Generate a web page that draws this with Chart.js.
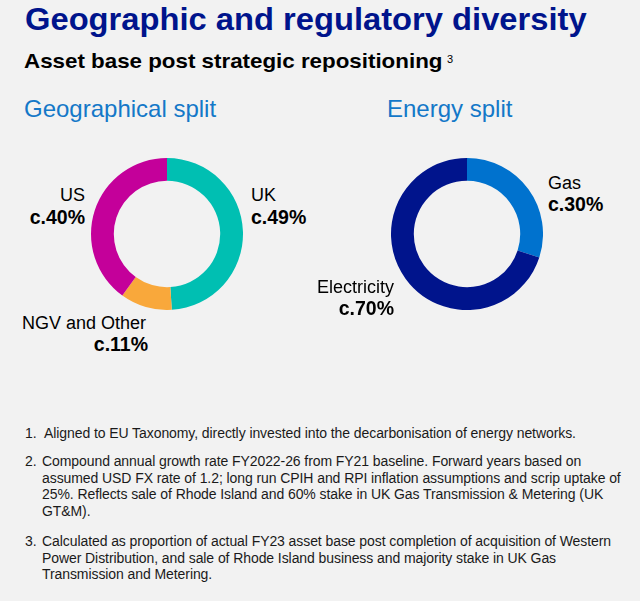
<!DOCTYPE html>
<html>
<head>
<meta charset="utf-8">
<script src="https://cdn.jsdelivr.net/npm/chart.js@4"></script>
<style>
  html, body { margin: 0; padding: 0; }
  body {
    width: 640px; height: 601px; overflow: hidden;
    background: #f2f2f2; position: relative;
    font-family: "Liberation Sans", Arial, Helvetica, sans-serif;
  }
  .t { position: absolute; line-height: 1; white-space: nowrap; }
  .title { left: 25px; top: 4px; font-size: 31px; font-weight: bold; color: #00148c;
           transform: scaleX(1.055); transform-origin: left top; }
  .sub { left: 24px; top: 50px; font-size: 21px; font-weight: bold; color: #000;
         transform: scaleX(1.064); transform-origin: left top; }
  .sup { left: 447px; top: 54px; font-size: 11px; color: #000; }
  .head { top: 97px; font-size: 24px; color: #1478c8; }
  .lab { font-size: 18px; color: #000; }
  .pct { font-size: 19.5px; font-weight: bold; color: #000; }
  .chartBox { position: absolute; width: 152px; height: 152px; }
  .notes { position: absolute; left: 25px; top: 425px; font-size: 14px; color: #1a1a1a; letter-spacing: -0.08px; }
  .note { position: relative; padding-left: 17px; line-height: 16.7px; white-space: nowrap; }
  .note span.n { position: absolute; left: 0; letter-spacing: 0; }
</style>
</head>
<body>
<div class="t title">Geographic and regulatory diversity</div>
<div class="t sub">Asset base post strategic repositioning</div>
<div class="t sup">3</div>

<div class="t head" style="left:24px">Geographical split</div>
<div class="t head" style="left:387px">Energy split</div>

<div class="chartBox" style="left:91px; top:158px"><canvas id="geoChart"></canvas></div>
<div class="chartBox" style="left:391px; top:158px"><canvas id="energyChart"></canvas></div>

<div id="labels"></div>

<div class="notes">
  <div class="note" style="padding-left:19px"><span class="n">1.</span>Aligned to EU Taxonomy, directly invested into the decarbonisation of energy networks.</div>
  <div class="note" style="margin-top:11.3px"><span class="n">2.</span>Compound annual growth rate FY2022-26 from FY21 baseline. Forward years based on<br>assumed USD FX rate of 1.2; long run CPIH and RPI inflation assumptions and scrip uptake of<br>25%. Reflects sale of Rhode Island and 60% stake in UK Gas Transmission &amp; Metering (UK<br>GT&amp;M).</div>
  <div class="note" style="margin-top:13.2px"><span class="n">3.</span>Calculated as proportion of actual FY23 asset base post completion of acquisition of Western<br>Power Distribution, and sale of Rhode Island business and majority stake in UK Gas<br>Transmission and Metering.</div>
</div>

<script>
// ── Data ─────────────────────────────────────────────────────
const geoLabels    = ['UK', 'NGV and Other', 'US'];
const geoValues    = [49, 11, 40];
const geoColors    = ['#00bfb2', '#f9a83b', '#c4009a'];

const energyLabels = ['Gas', 'Electricity'];
const energyValues = [30, 70];
const energyColors = ['#0072ce', '#00148c'];

// label placement: [name x, name align, value x, value align, name baseline, value baseline]
const geoLabelPos = [
  [251, 'left', 251, 'left', 201, 224],
  [22, 'left', 148, 'right', 329, 351],
  [85, 'right', 85, 'right', 201, 224]
];
const energyLabelPos = [
  [548, 'left', 548, 'left', 189, 211],
  [394, 'right', 394, 'right', 293, 315]
];

function makeDoughnut(id, labels, values, colors) {
  return new Chart(document.getElementById(id), {
    type: 'doughnut',
    data: {
      labels,
      datasets: [{ data: values, backgroundColor: colors, borderWidth: 0, hoverOffset: 0 }]
    },
    options: {
      responsive: true,
      maintainAspectRatio: false,
      animation: false,
      cutout: '70%',
      layout: { padding: 0 },
      plugins: { legend: { display: false }, tooltip: { enabled: false } }
    }
  });
}

function edge(x, align) {
  return align === 'left' ? `left:${x}px` : `right:${640 - x}px`;
}

function addLabels(labels, values, pos) {
  const box = document.getElementById('labels');
  labels.forEach((name, i) => {
    const [nx, na, vx, va, yName, yPct] = pos[i];
    box.insertAdjacentHTML('beforeend',
      `<div class="t lab" style="${edge(nx, na)};top:${yName - 15}px">${name}</div>` +
      `<div class="t pct" style="${edge(vx, va)};top:${yPct - 16.5}px">c.${values[i]}%</div>`);
  });
}

makeDoughnut('geoChart', geoLabels, geoValues, geoColors);
makeDoughnut('energyChart', energyLabels, energyValues, energyColors);
addLabels(geoLabels, geoValues, geoLabelPos);
addLabels(energyLabels, energyValues, energyLabelPos);
</script>
</body>
</html>
